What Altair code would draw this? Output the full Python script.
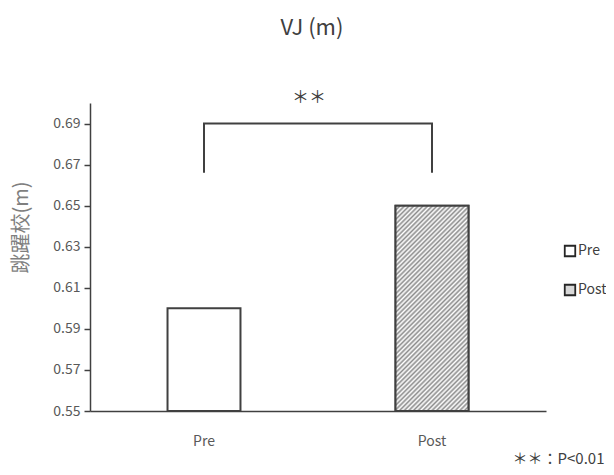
import altair as alt
import pandas as pd

# ---- data ----
groups = ["Pre", "Post"]
values = [0.600, 0.650]
baseline = 0.55
bracket_groups = ["Pre", "Pre", "Post", "Post"]
bracket_values = [0.666, 0.690, 0.690, 0.666]
bracket_order = [0, 1, 2, 3]
sig_label = "＊＊"
sig_value = 0.7024
y_ticks = [0.55, 0.57, 0.59, 0.61, 0.63, 0.65, 0.67, 0.69]

FONT = "Noto Sans CJK JP"
W, H = 456, 308

bars = pd.DataFrame({"group": groups, "value": values, "base": [baseline] * len(groups)})
bracket = pd.DataFrame({"group": bracket_groups, "value": bracket_values, "o": bracket_order})
sig = pd.DataFrame({"label": [sig_label], "value": [sig_value]})

# hatch pattern as a striped (triangle-wave) linear gradient
periods = 140
stops = []
for i in range(periods):
    stops += [
        {"offset": i / periods, "color": "#8c8c8c"},
        {"offset": (i + 0.5) / periods, "color": "#ffffff"},
    ]
stops.append({"offset": 1, "color": "#8c8c8c"})
hatch = {"gradient": "linear", "x1": 0, "y1": 0, "x2": 1, "y2": 2.81, "stops": stops}

x_enc = alt.X(
    "group:N",
    sort=groups,
    scale=alt.Scale(paddingInner=0.68, paddingOuter=0.34),
    axis=alt.Axis(
        title="＊＊：P<0.01",
        titleX=514, titleY=47, titleAlign="right", titleBaseline="middle",
        titleFontSize=15, titleFontWeight="normal", titleColor="#404040", titleFont=FONT,
        labelAngle=0, ticks=False, labelPadding=23, labelFontSize=14,
        labelColor="#595959", labelFont=FONT,
        domainColor="#404040", domainWidth=1.5,
    ),
)
y_scale = alt.Scale(domain=[0.55, 0.70], nice=False, zero=False)
y_enc = alt.Y(
    "value:Q",
    scale=y_scale,
    axis=alt.Axis(
        values=y_ticks, format=".2f", title="跳躍校(m)",
        titleX=-69, titleY=124, titleAngle=-90, titleAlign="center", titleBaseline="middle",
        titleFontSize=20, titleFontWeight="normal", titleColor="#7f7f7f", titleFont=FONT,
        labelFontSize=14, labelColor="#595959", labelFont=FONT, labelPadding=4,
        tickSize=6, tickColor="#404040", tickWidth=1.5,
        domainColor="#404040", domainWidth=1.5, grid=False,
    ),
)

base_bars = alt.Chart(bars).mark_bar(stroke="#404040", strokeWidth=2).encode(
    x=x_enc,
    y=y_enc,
    y2="base:Q",
    fill=alt.Fill(
        "group:N",
        sort=groups,
        scale=alt.Scale(domain=groups, range=["#ffffff", "#d8d8d8"]),
        legend=alt.Legend(
            title=None, orient="none", legendX=473, legendY=141,
            symbolType="square", symbolSize=110, symbolStrokeColor="#262626",
            symbolStrokeWidth=1.8, labelFontSize=14, labelColor="#404040",
            labelFont=FONT, rowPadding=21, labelOffset=1,
        ),
    ),
)

hatch_bar = alt.Chart(bars).transform_filter(alt.datum.group == "Post").mark_bar(
    fill=hatch, stroke="#404040", strokeWidth=2
).encode(
    x=alt.X("group:N", sort=groups),
    y=alt.Y("value:Q", scale=y_scale),
    y2="base:Q",
)

bracket_line = alt.Chart(bracket).mark_line(color="#404040", strokeWidth=2).encode(
    x=alt.X("group:N", sort=groups),
    y=alt.Y("value:Q", scale=y_scale),
    order="o:Q",
)

sig_text = alt.Chart(sig).mark_text(
    fontSize=17, font=FONT, color="#404040", baseline="middle", dx=-9
).encode(
    x=alt.value(W / 2),
    y=alt.Y("value:Q", scale=y_scale),
    text="label:N",
)

chart = (
    alt.layer(base_bars, hatch_bar, bracket_line, sig_text)
    .properties(
        width=W,
        height=H,
        title=alt.TitleParams(
            "VJ (m)", fontSize=22, font=FONT, fontWeight="normal", color="#404040",
            anchor="middle", offset=49, dx=-6,
        ),
        autosize=alt.AutoSizeParams(type="none"),
        padding={"left": 82, "top": 95, "right": 60, "bottom": 56},
    )
    .configure(background="white")
    .configure_view(stroke=None)
)

chart.save("out.html", embed_options={"renderer": "svg", "actions": False})
